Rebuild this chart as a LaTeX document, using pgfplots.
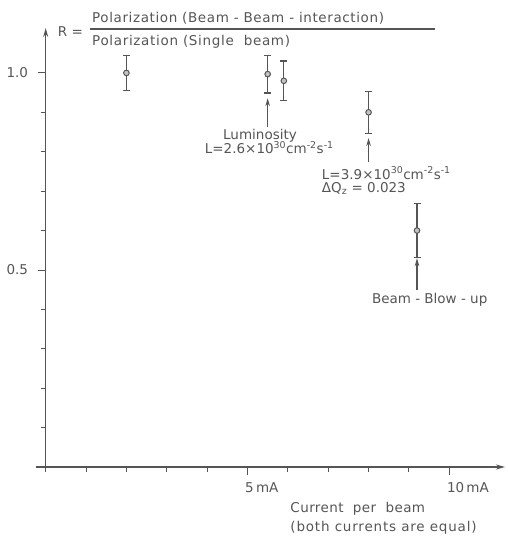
\documentclass[border=0pt]{standalone}
\usepackage{pgfplots}
\pgfplotsset{compat=1.18}
\usepackage{fontspec}
\setmainfont{DejaVu Sans}
\usetikzlibrary{arrows.meta}
\definecolor{ink}{HTML}{555555}
\begin{document}
\fontsize{13.5}{16}\selectfont\color{ink}%
\begin{tikzpicture}[font=\fontsize{13.5}{16}\selectfont]
\begin{axis}[
  scale only axis, width=469.4pt, height=439pt,
  xmin=-0.25, xmax=11.38, ymin=0, ymax=1.114,
  axis lines=middle, clip=false,
  axis line style={ink, line width=1.2pt, -{Stealth[length=9pt,width=5pt]}},
  tick align=outside, major tick length=8pt, minor tick length=5pt,
  every tick/.style={ink, line width=0.9pt},
  minor tick style={ink, line width=0.9pt},
  ytick={0.5,1}, yticklabels={0.5,1.0},
  minor ytick={0.1,0.2,0.3,0.4,0.6,0.7,0.8,0.9},
  xtick={5,10}, xticklabels={5\,mA,10\,mA},
  minor xtick={0,1,2,3,4,6,7,8,9},
  xticklabel style={anchor=north west, xshift=-7pt, yshift=-3pt, text=ink},
  yticklabel style={xshift=-5pt, text=ink},
]
\addplot[only marks, ink, mark=*, mark size=2.8pt,
  mark options={fill=ink!35, draw=ink, line width=1pt},
  error bars/.cd, y dir=both, y explicit,
  error bar style={line width=1.3pt, ink},
  error mark options={rotate=90, mark size=3.5pt, line width=1.3pt, ink}]
  coordinates {
  (2.0,1.0) +- (0,0.045)
  (5.5,0.997) +- (0,0.048)
  (5.9,0.98) +- (0,0.05)
  (8.0,0.90) +- (0,0.053)
  (9.2,0.60) +- (0,0.068)
  };
\addplot[ink, line width=1.2pt, -{Stealth[length=8pt,width=4.5pt]}] coordinates {(5.5,0.864) (5.5,0.936)};
\addplot[ink, line width=1.2pt, -{Stealth[length=8pt,width=4.5pt]}] coordinates {(8.0,0.775) (8.0,0.835)};
\addplot[ink, line width=1.2pt, -{Stealth[length=8pt,width=4.5pt]}] coordinates {(9.2,0.449) (9.2,0.53)};

\node[anchor=center, text=ink] at (axis cs:0.614,1.104) {R =};
\node[anchor=west, inner sep=0pt, text=ink] at (axis cs:1.147,1.1388) {\addfontfeature{LetterSpace=4.5}Polarization (Beam - Beam - interaction)};
\draw[ink, line width=1.2pt] (axis cs:1.098,1.1117) -- (axis cs:9.646,1.1117);
\node[anchor=west, inner sep=0pt, text=ink] at (axis cs:1.147,1.0795) {\addfontfeature{LetterSpace=5}Polarization (Single\ \ beam)};
\node[anchor=center, text=ink] at (axis cs:5.31,0.841) {Luminosity};
\node[anchor=center, text=ink] at (axis cs:5.54,0.810) {L=2.6×10\textsuperscript{30}cm\textsuperscript{-2}s\textsuperscript{-1}};
\node[anchor=west, inner sep=0pt, text=ink] at (axis cs:6.84,0.746) {L=3.9×10\textsuperscript{30}cm\textsuperscript{-2}s\textsuperscript{-1}};
\node[anchor=west, inner sep=0pt, text=ink] at (axis cs:6.84,0.706) {ΔQ\textsubscript{z} = 0.023};
\node[anchor=west, inner sep=0pt, text=ink] at (axis cs:8.08,0.424) {Beam - Blow - up};
\node[anchor=west, inner sep=0pt, text=ink] at (axis cs:6.06,-0.107) {\addfontfeature{LetterSpace=3}Current\ \ per\ \ beam};
\node[anchor=west, inner sep=0pt, text=ink] at (axis cs:6.06,-0.155) {\addfontfeature{LetterSpace=6}(both currents are equal)};
\end{axis}
\pgfresetboundingbox
\path[use as bounding box] (-35.6pt,-69pt) rectangle (472.4pt,467pt);
\end{tikzpicture}
\end{document}
